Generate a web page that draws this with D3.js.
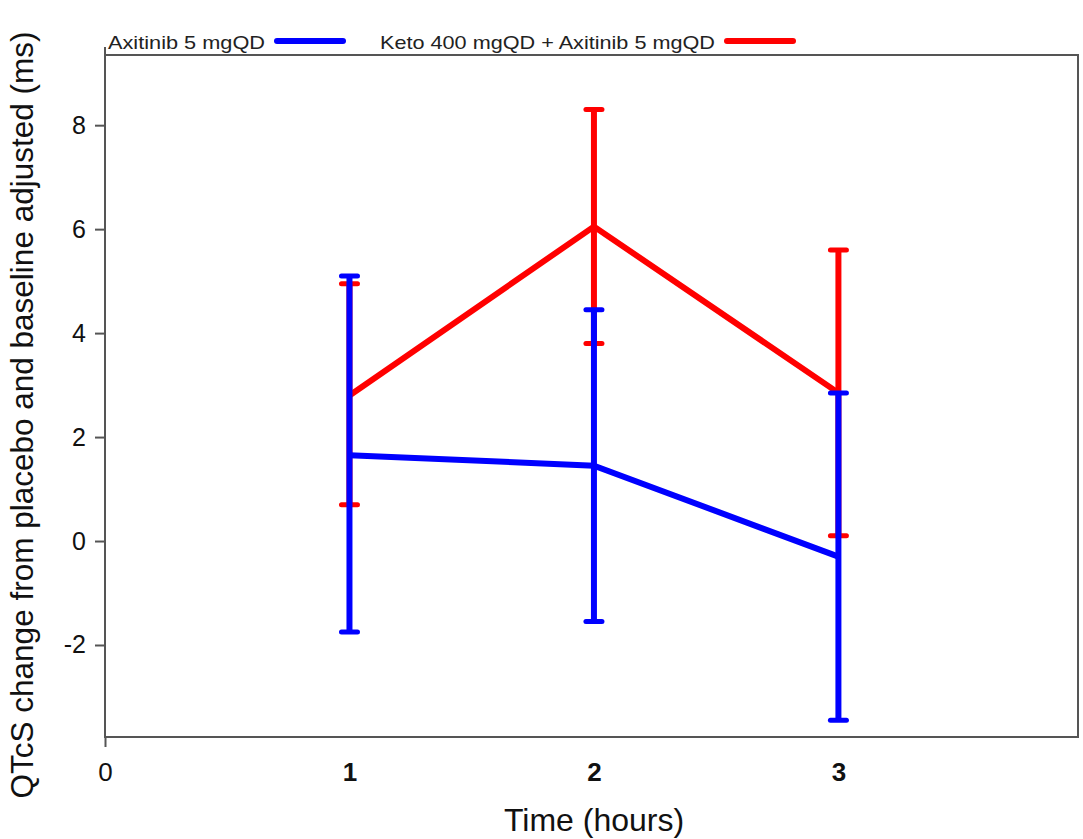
<!DOCTYPE html>
<html>
<head>
<meta charset="utf-8">
<script src="https://cdn.jsdelivr.net/npm/d3@7"></script>
<style>
  body { margin: 0; background: #fff; }
  text { font-family: Arial, "Liberation Sans", sans-serif; }
</style>
</head>
<body>
<script>
(function() {
  const times = [1, 2, 3];
  const axiMean = [1.65, 1.45, -0.3];
  const axiLow = [-1.75, -1.55, -3.45];
  const axiHigh = [5.1, 4.45, 2.85];
  const ketoMean = [2.8, 6.05, 2.85];
  const ketoLow = [0.7, 3.8, 0.1];
  const ketoHigh = [4.95, 8.3, 5.6];
  const xTicks = [0, 1, 2, 3];
  const yTicks = [-2, 0, 2, 4, 6, 8];
  const seriesNames = ['Axitinib 5 mgQD', 'Keto 400 mgQD + Axitinib 5 mgQD'];

  const width = 1083;
  const height = 839;
  const left = 105, top = 55, right = 1078, bottom = 737;

  const svg = d3.select('body').append('svg').attr('width', width).attr('height', height);

  const x = d3.scaleLinear().domain([0, 3.98]).range([left, right]);
  const y = d3.scaleLinear().domain([-3.77, 9.35]).range([bottom, top]);
  const fmt = function(d) { return String(d); };

  // frame
  svg.append('rect')
    .attr('x', left).attr('y', top)
    .attr('width', right - left).attr('height', bottom - top)
    .attr('fill', 'none').attr('stroke', '#555').attr('stroke-width', 2);

  const yAxis = svg.append('g')
    .attr('transform', 'translate(' + left + ',0)')
    .call(d3.axisLeft(y).tickValues(yTicks).tickFormat(fmt).tickSize(10).tickPadding(9).tickSizeOuter(0));
  yAxis.select('.domain').attr('d', 'M0,' + (top - 8) + 'V' + bottom);

  const xAxis = svg.append('g')
    .attr('transform', 'translate(0,' + bottom + ')')
    .call(d3.axisBottom(x).tickValues(xTicks).tickFormat(fmt).tickSize(0).tickPadding(26).tickSizeOuter(0));
  xAxis.select('.tick line').attr('y2', 10);
  xAxis.select('.domain').attr('d', 'M' + left + ',0H' + right);

  [yAxis, xAxis].forEach(function(a) {
    a.selectAll('.domain, .tick line').attr('stroke', '#555').attr('stroke-width', 2);
    a.selectAll('text').attr('fill', '#111').attr('font-family', 'Arial, "Liberation Sans", sans-serif');
  });
  yAxis.selectAll('text').attr('font-size', 25);
  xAxis.selectAll('text').attr('font-size', 26)
    .attr('font-weight', function(d) { return d === 0 ? 'normal' : 'bold'; });

  svg.append('text')
    .attr('x', 594).attr('y', 831)
    .attr('text-anchor', 'middle').attr('font-size', 32).attr('fill', '#111')
    .text('Time (hours)');

  svg.append('text')
    .attr('transform', 'translate(33,' + 415 + ') rotate(-90)')
    .attr('text-anchor', 'middle').attr('font-size', 31.5).attr('fill', '#111')
    .text('QTcS change from placebo and baseline adjusted (ms)');

  function drawSeries(mean, low, high, color, lw) {
    const g = svg.append('g');
    const pts = times.map(function(t, i) { return { t: t, m: mean[i], lo: low[i], hi: high[i] }; });
    g.append('path')
      .datum(pts)
      .attr('fill', 'none').attr('stroke', color).attr('stroke-width', lw)
      .attr('d', d3.line().x(function(d) { return x(d.t); }).y(function(d) { return y(d.m); }));
    const bars = g.selectAll('g.bar').data(pts).enter().append('g');
    bars.append('line')
      .attr('x1', function(d) { return x(d.t); }).attr('x2', function(d) { return x(d.t); })
      .attr('y1', function(d) { return y(d.lo); }).attr('y2', function(d) { return y(d.hi); })
      .attr('stroke', color).attr('stroke-width', lw);
    ['lo', 'hi'].forEach(function(k) {
      bars.append('line')
        .attr('x1', function(d) { return x(d.t) - 8; }).attr('x2', function(d) { return x(d.t) + 8; })
        .attr('y1', function(d) { return y(d[k]); }).attr('y2', function(d) { return y(d[k]); })
        .attr('stroke', color).attr('stroke-width', 5).attr('stroke-linecap', 'round');
    });
  }
  drawSeries(ketoMean, ketoLow, ketoHigh, '#ff0000', 6);
  drawSeries(axiMean, axiLow, axiHigh, '#0000ff', 6);

  // legend
  const legend = [
    { name: seriesNames[0], color: '#0000ff', tx: 108, lx: 277 },
    { name: seriesNames[1], color: '#ff0000', tx: 380, lx: 727 }
  ];
  const lg = svg.append('g').selectAll('g').data(legend).enter().append('g');
  lg.append('text')
    .attr('x', function(d) { return d.tx; }).attr('y', 49)
    .attr('font-size', 19).attr('fill', '#222')
    .attr('textLength', function(d) { return d.lx - d.tx - 12; })
    .attr('lengthAdjust', 'spacingAndGlyphs')
    .text(function(d) { return d.name; });
  lg.append('line')
    .attr('x1', function(d) { return d.lx; }).attr('x2', function(d) { return d.lx + 66; })
    .attr('y1', 41).attr('y2', 41)
    .attr('stroke', function(d) { return d.color; }).attr('stroke-width', 6).attr('stroke-linecap', 'round');
})();
</script>
</body>
</html>
